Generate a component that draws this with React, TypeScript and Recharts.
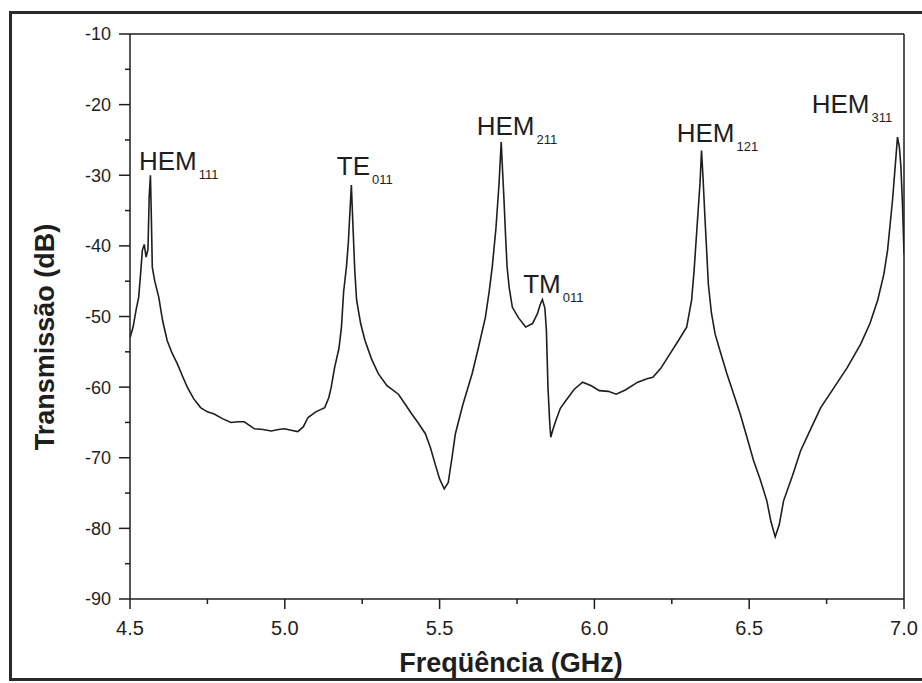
import { LineChart, Line, XAxis, YAxis, ReferenceLine, ReferenceDot } from "recharts"

// frequency (GHz) and transmission (dB)
const freq = [
    4.500, 4.510, 4.520, 4.528, 4.535, 4.540, 4.546, 4.552, 4.558, 4.562,
    4.566, 4.569, 4.572, 4.580, 4.593, 4.605, 4.620, 4.636, 4.653, 4.670,
    4.685, 4.705, 4.728, 4.750, 4.772, 4.800, 4.826, 4.850, 4.869, 4.902,
    4.930, 4.956, 4.980, 4.999, 5.020, 5.042, 5.060, 5.075, 5.100, 5.129,
    5.142, 5.150, 5.161, 5.175, 5.183, 5.190, 5.199, 5.205, 5.210, 5.215,
    5.220, 5.226, 5.232, 5.245, 5.259, 5.280, 5.302, 5.330, 5.367, 5.390,
    5.410, 5.430, 5.454, 5.470, 5.485, 5.500, 5.515, 5.528, 5.540, 5.551,
    5.575, 5.605, 5.625, 5.648, 5.660, 5.670, 5.682, 5.692, 5.699, 5.703,
    5.708, 5.713, 5.718, 5.725, 5.735, 5.755, 5.778, 5.800, 5.816, 5.825,
    5.832, 5.840, 5.845, 5.850, 5.855, 5.859, 5.866, 5.875, 5.890, 5.908,
    5.935, 5.962, 5.990, 6.016, 6.045, 6.070, 6.100, 6.140, 6.170, 6.189,
    6.215, 6.244, 6.270, 6.298, 6.314, 6.322, 6.330, 6.341, 6.346, 6.351,
    6.357, 6.368, 6.378, 6.390, 6.410, 6.428, 6.450, 6.471, 6.492, 6.514,
    6.535, 6.557, 6.570, 6.584, 6.597, 6.611, 6.640, 6.666, 6.700, 6.731,
    6.775, 6.817, 6.860, 6.890, 6.915, 6.935, 6.947, 6.963, 6.972, 6.979,
    6.985, 6.990, 6.995, 7.000,
]
const transmission = [
    -53.0, -51.5, -49.0, -47.3, -43.5, -40.6, -39.8, -41.6, -40.5, -33.0,
    -30.0, -36.0, -43.0, -45.0, -47.3, -50.5, -53.4, -55.2, -56.7, -58.5,
    -60.0, -61.6, -62.9, -63.5, -63.8, -64.5, -65.0, -64.9, -64.9, -65.9,
    -66.0, -66.2, -66.0, -65.9, -66.1, -66.3, -65.6, -64.3, -63.5, -62.9,
    -61.5, -60.0, -57.2, -54.5, -51.5, -46.5, -43.0, -39.7, -35.5, -31.4,
    -37.0, -43.5, -47.7, -51.0, -53.4, -56.0, -58.1, -59.8, -61.0, -62.5,
    -63.8, -65.0, -66.6, -68.5, -70.8, -73.0, -74.4, -73.5, -70.0, -66.6,
    -62.5, -58.1, -54.5, -50.1, -46.5, -43.0, -37.5, -31.2, -25.3, -29.0,
    -33.5, -38.5, -43.0, -46.0, -48.7, -50.2, -51.5, -51.0, -49.6, -48.3,
    -47.6, -48.8, -52.0, -60.0, -64.5, -67.1, -66.0, -64.8, -63.0, -61.9,
    -60.3, -59.3, -59.8, -60.5, -60.6, -61.0, -60.4, -59.3, -58.8, -58.6,
    -57.3, -55.3, -53.5, -51.5, -47.7, -43.5, -38.3, -31.2, -26.5, -30.5,
    -35.9, -45.4, -49.5, -52.5, -55.5, -58.1, -61.0, -63.8, -67.0, -70.4,
    -73.0, -76.1, -79.0, -81.2, -79.5, -76.1, -72.5, -69.0, -65.8, -62.9,
    -60.0, -57.2, -53.9, -51.0, -47.7, -44.0, -40.6, -33.5, -28.5, -24.6,
    -26.0, -28.8, -34.0, -41.1,
]

const xTicks = [4.5, 4.75, 5.0, 5.25, 5.5, 5.75, 6.0, 6.25, 6.5, 6.75, 7.0]
const yTicks = [-90, -85, -80, -75, -70, -65, -60, -55, -50, -45, -40, -35, -30, -25, -20, -15, -10]

// mode labels: name, subscript, anchor (GHz, dB) of the label's left baseline
const modeNames = ["HEM", "TE", "HEM", "TM", "HEM", "HEM"]
const modeSubs = ["111", "011", "211", "011", "121", "311"]
const modeFreq = [4.529, 5.168, 5.620, 5.770, 6.266, 6.702]
const modeLevel = [-29.3, -30.0, -24.3, -46.7, -25.3, -21.2]

const data = freq.map((f, i) => ({ f, v: transmission[i] }))

const FONT = "'Liberation Sans', Arial, sans-serif"
const INK = "#1e1e1e"

const isMajor = (v: number, step: number) => Math.abs(v / step - Math.round(v / step)) < 1e-6

function XTick({ x, y, payload }: any) {
    const major = isMajor(payload.value, 0.5)
    const y0 = y - 10
    return (
        <g>
            <line x1={x} x2={x} y1={y0} y2={y0 + (major ? 10 : 5)} stroke={INK} strokeWidth={1.5} />
            {major && (
                <text x={x} y={y0 + 36} textAnchor="middle" fontSize={20} fill={INK} fontFamily={FONT}>
                    {payload.value.toFixed(1)}
                </text>
            )}
        </g>
    )
}

function YTick({ x, y, payload }: any) {
    const major = isMajor(payload.value, 10)
    const x0 = x + 10
    return (
        <g>
            <line x1={x0} x2={x0 - (major ? 11 : 5)} y1={y} y2={y} stroke={INK} strokeWidth={1.5} />
            {major && (
                <text x={x0 - 19} y={y} dy="0.36em" textAnchor="end" fontSize={18} fill={INK} fontFamily={FONT}>
                    {payload.value}
                </text>
            )}
        </g>
    )
}

function ModeLabel(name: string, sub: string) {
    return (props: any) => (
        <text x={props.cx} y={props.cy} fontFamily={FONT} fill={INK} fontSize={26}>
            <tspan>{name}</tspan>
            <tspan dx={2} dy={9} fontSize={13}>{sub}</tspan>
        </text>
    )
}

export default function App() {
    return (
        <div style={{ position: "fixed", left: 0, top: 0, width: 922, height: 683, background: "#fff", overflow: "hidden" }}>
            <div style={{ position: "absolute", left: 9, top: 11, width: 960, height: 664, border: `3px solid #2a2a2a` }} />
            <div style={{ position: "absolute", left: 0, top: 0 }}>
                <LineChart width={922} height={683} data={data} margin={{ top: 34, right: 18, bottom: 0, left: 0 }}>
                    <XAxis
                        dataKey="f"
                        type="number"
                        domain={[4.5, 7.0]}
                        ticks={xTicks}
                        interval={0}
                        height={84}
                        tickSize={10}
                        tickMargin={0}
                        tickLine={false}
                        tick={<XTick />}
                        axisLine={{ stroke: INK, strokeWidth: 1.5 }}
                        allowDataOverflow
                    />
                    <YAxis
                        type="number"
                        domain={[-90, -10]}
                        ticks={yTicks}
                        interval={0}
                        width={130}
                        tickSize={10}
                        tickMargin={0}
                        tickLine={false}
                        tick={<YTick />}
                        axisLine={{ stroke: INK, strokeWidth: 1.5 }}
                        allowDataOverflow
                    />
                    <ReferenceLine y={-10} stroke={INK} strokeWidth={1.5} />
                    <ReferenceLine x={7.0} stroke={INK} strokeWidth={1.5} />
                    <Line
                        type="linear"
                        dataKey="v"
                        stroke={INK}
                        strokeWidth={1.6}
                        dot={false}
                        activeDot={false}
                        isAnimationActive={false}
                    />
                    {modeNames.map((n, i) => (
                        <ReferenceDot
                            key={i}
                            x={modeFreq[i]}
                            y={modeLevel[i]}
                            r={0}
                            ifOverflow="visible"
                            shape={ModeLabel(n, modeSubs[i])}
                        />
                    ))}
                    <text x={511} y={672} textAnchor="middle" fontSize={27} fontWeight="bold" fill={INK} fontFamily={FONT}>
                        Freqüência (GHz)
                    </text>
                    <text
                        x={54}
                        y={337}
                        textAnchor="middle"
                        transform="rotate(-90 54 337)"
                        fontSize={27}
                        fontWeight="bold"
                        fill={INK}
                        fontFamily={FONT}
                    >
                        Transmissão (dB)
                    </text>
                </LineChart>
            </div>
        </div>
    )
}
